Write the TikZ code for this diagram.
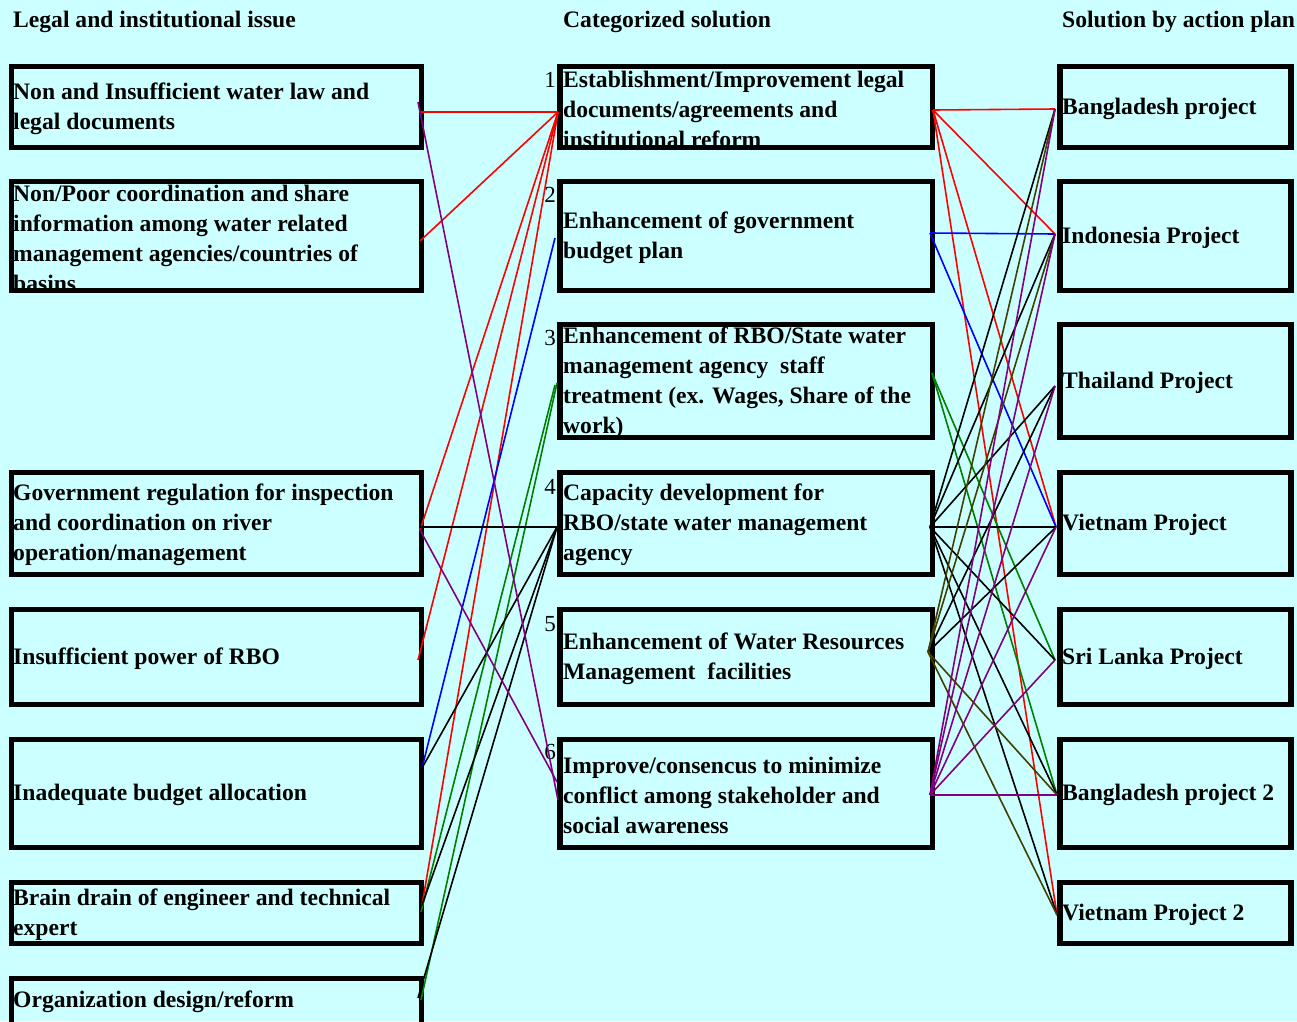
\documentclass[tikz,border=0pt]{standalone}
\usepackage{fontspec}
\setmainfont{Liberation Serif}
\definecolor{bgcyan}{RGB}{204,255,255}
\definecolor{cred}{RGB}{255,0,0}
\definecolor{cblue}{RGB}{0,0,255}
\definecolor{cgreen}{RGB}{0,128,0}
\definecolor{cpurple}{RGB}{128,0,128}
\definecolor{colive}{RGB}{64,64,0}
\begin{document}
\begin{tikzpicture}[x=1pt,y=-1pt,
  box/.style={draw=black,line width=5.5pt,rectangle,inner sep=0pt,outer sep=0pt},
  lbox/.style={box,minimum width=410pt},
  mbox/.style={box,minimum width=372.5pt},
  rbox/.style={box,minimum width=231pt},
  txt/.style={anchor=west,align=left,inner sep=0pt,font=\bfseries\fontsize{23.6}{30}\selectfont},
  hdr/.style={anchor=west,inner sep=0pt,font=\bfseries\fontsize{23.6}{28}\selectfont},
  num/.style={anchor=east,inner sep=0pt,font=\fontsize{23}{28}\selectfont},
  con/.style={line width=1.6pt}]
\fill[bgcyan] (0,0) rectangle (1297,1021);
\useasboundingbox (0,0) rectangle (1297,1021);

% headers
\node[hdr] (h1) at (13,22) {Legal and institutional issue};
\node[hdr] (h2) at (563,22) {Categorized solution};
\node[hdr] (h3) at (1062,22) {Solution by action plan};

% left boxes
\node[lbox,minimum height=81pt]  (L1) at (216.5,107) {};
\node[lbox,minimum height=109pt] (L2) at (216.5,236) {};
\node[lbox,minimum height=102pt] (L3) at (216.5,523.5) {};
\node[lbox,minimum height=95pt]  (L4) at (216.5,657) {};
\node[lbox,minimum height=108pt] (L5) at (216.5,793.5) {};
\node[lbox,minimum height=61pt]  (L6) at (216.5,913) {};
\node[lbox,minimum height=60pt]  (L7) at (216.5,1008.5) {};

% middle boxes
\node[mbox,minimum height=81pt]  (M1) at (746.25,107) {};
\node[mbox,minimum height=109pt] (M2) at (746.25,236) {};
\node[mbox,minimum height=113pt] (M3) at (746.25,381) {};
\node[mbox,minimum height=102pt] (M4) at (746.25,523.5) {};
\node[mbox,minimum height=95pt]  (M5) at (746.25,657) {};
\node[mbox,minimum height=108pt] (M6) at (746.25,793.5) {};

% right boxes
\node[rbox,minimum height=81pt]  (R1) at (1175.5,107) {};
\node[rbox,minimum height=109pt] (R2) at (1175.5,236) {};
\node[rbox,minimum height=113pt] (R3) at (1175.5,381) {};
\node[rbox,minimum height=102pt] (R4) at (1175.5,523.5) {};
\node[rbox,minimum height=95pt]  (R5) at (1175.5,657) {};
\node[rbox,minimum height=108pt] (R6) at (1175.5,793.5) {};
\node[rbox,minimum height=61pt]  (R7) at (1175.5,913) {};

% left texts
\node[txt] (L1t) at (13,109) {Non and Insufficient water law and\\legal documents};
\node[txt] (L2t) at (13,238) {Non/Poor coordination and share\\information among water related\\management agencies/countries of\\basins};
\node[txt] (L3t) at (13,525) {Government regulation for inspection\\and coordination on river\\operation/management};
\node[txt] (L4t) at (13,659) {Insufficient power of RBO};
\node[txt] (L5t) at (13,795) {Inadequate budget allocation};
\node[txt] (L6t) at (13,915) {Brain drain of engineer and technical\\expert};
\node[txt] (L7t) at (13,1002) {Organization design/reform};

% middle texts
\node[txt] (M1t) at (563,109) {Establishment/Improvement legal\\documents/agreements and\\institutional reform};
\node[txt] (M2t) at (563,238) {Enhancement of government\\budget plan};
\node[txt] (M3t) at (563,383) {Enhancement of RBO/State water\\management agency\ \ staff\\treatment (ex. Wages, Share of the\\work)};
\node[txt] (M4t) at (563,525) {Capacity development for\\RBO/state water management\\agency};
\node[txt] (M5t) at (563,659) {Enhancement of Water Resources\\Management\ \ facilities};
\node[txt] (M6t) at (563,795) {Improve/consencus to minimize\\conflict among stakeholder and\\social awareness};

% numbers
\node[num] (n1) at (556,80) {1};
\node[num] (n2) at (556,195) {2};
\node[num] (n3) at (556,338) {3};
\node[num] (n4) at (556,487) {4};
\node[num] (n5) at (556,624) {5};
\node[num] (n6) at (556,752) {6};

% right texts
\node[txt] (R1t) at (1062,109) {Bangladesh project};
\node[txt] (R2t) at (1062,238) {Indonesia Project};
\node[txt] (R3t) at (1062,383) {Thailand Project};
\node[txt] (R4t) at (1062,525) {Vietnam Project};
\node[txt] (R5t) at (1062,659) {Sri Lanka Project};
\node[txt] (R6t) at (1062,795) {Bangladesh project 2};
\node[txt] (R7t) at (1062,915) {Vietnam Project 2};

% ports, left column
\coordinate (pL1a) at (420,112);
\coordinate (pL1b) at (418,102);
\coordinate (pL2)  at (420,241);
\coordinate (pL3a) at (420,530);
\coordinate (pL3b) at (420,527);
\coordinate (pL4)  at (418,660);
\coordinate (pL5)  at (422,768);
\coordinate (pL6a) at (422,905);
\coordinate (pL6b) at (421,912);
\coordinate (pL7a) at (421,1000);
\coordinate (pL7b) at (418,998);
% ports, middle column left side
\coordinate (qM1)  at (558,112);
\coordinate (qM2)  at (555,238);
\coordinate (qM3a) at (555,385);
\coordinate (qM3b) at (557,383);
\coordinate (qM4)  at (557,527);
\coordinate (qM6a) at (557,782);
\coordinate (qM6b) at (558,800);
% ports, middle column right side
\coordinate (rM1) at (933,110);
\coordinate (rM2) at (930,233);
\coordinate (rM3) at (932,373);
\coordinate (rM4) at (930,527);
\coordinate (rM5) at (928,652);
\coordinate (rM6) at (930,795);
% ports, right column
\coordinate (sR1) at (1055,109);
\coordinate (sR2) at (1055,234);
\coordinate (sR3) at (1055,386);
\coordinate (sR4) at (1056,527);
\coordinate (sR5) at (1055,660);
\coordinate (sR6) at (1057,795);
\coordinate (sR7) at (1057,915);

% left connectors
\draw[con,cred] (pL1a) -- (qM1);
\draw[con,cred] (pL2) -- (qM1);
\draw[con,cred] (pL3a) -- (qM1);
\draw[con,cred] (pL4) -- (qM1);
\draw[con,cred] (pL6a) -- (qM1);
\draw[con,cblue] (pL5) -- (qM2);
\draw[con,cgreen] (pL6b) -- (qM3a);
\draw[con,cgreen] (pL7a) -- (qM3b);
\draw[con,black] (pL3b) -- (qM4);
\draw[con,black] (pL5) -- (qM4);
\draw[con,black] (pL6a) -- (qM4);
\draw[con,black] (pL7b) -- (qM4);
\draw[con,cpurple] (pL1b) -- (qM6b);
\draw[con,cpurple] (pL3a) -- (qM6a);

% right connectors
\draw[con,cred] (rM1) -- (sR1);
\draw[con,cred] (rM1) -- (sR2);
\draw[con,cred] (rM1) -- (sR4);
\draw[con,cred] (rM1) -- (sR7);
\draw[con,cblue] (rM2) -- (sR2);
\draw[con,cblue] (rM2) -- (sR4);
\draw[con,cgreen] (rM3) -- (sR5);
\draw[con,cgreen] (rM3) -- (sR6);
\draw[con,black] (rM4) -- (sR1);
\draw[con,black] (rM4) -- (sR2);
\draw[con,black] (rM4) -- (sR3);
\draw[con,black] (rM4) -- (sR4);
\draw[con,black] (rM4) -- (sR5);
\draw[con,black] (rM4) -- (sR6);
\draw[con,black] (rM4) -- (sR7);
\draw[con,black] (rM5) -- (sR3);
\draw[con,black] (rM5) -- (sR4);
\draw[con,colive] (rM5) -- (sR1);
\draw[con,colive] (rM5) -- (sR2);
\draw[con,colive] (rM5) -- (sR6);
\draw[con,colive] (rM5) -- (sR7);
\draw[con,cpurple] (rM6) -- (sR1);
\draw[con,cpurple] (rM6) -- (sR2);
\draw[con,cpurple] (rM6) -- (sR3);
\draw[con,cpurple] (rM6) -- (sR4);
\draw[con,cpurple] (rM6) -- (sR5);
\draw[con,cpurple] (rM6) -- (sR6);
\end{tikzpicture}
\end{document}
